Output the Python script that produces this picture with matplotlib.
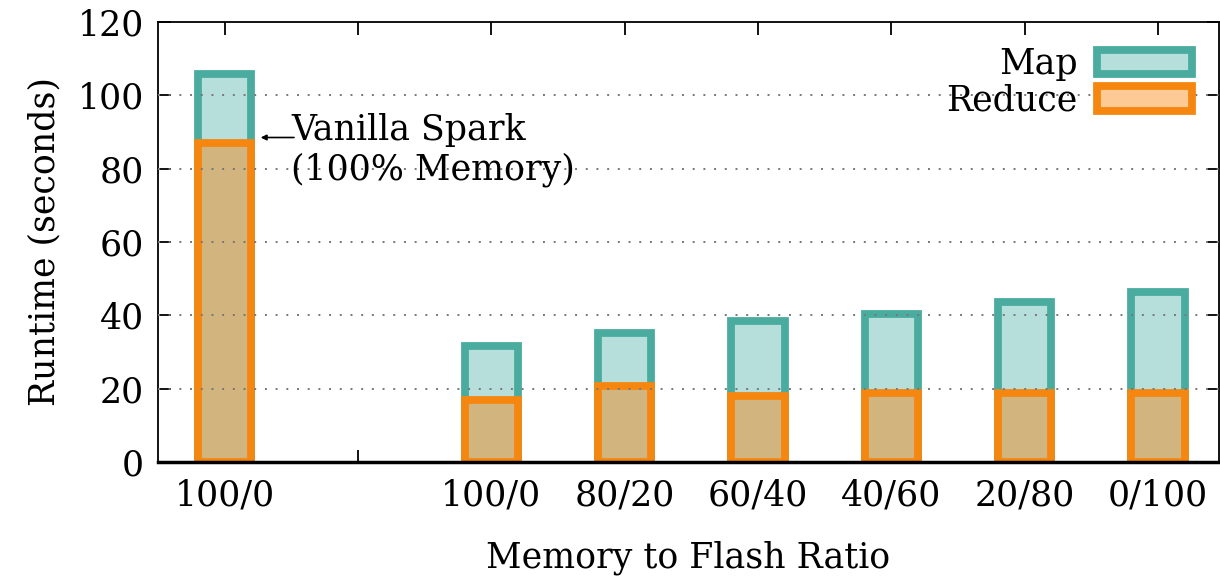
import matplotlib
matplotlib.use("Agg")
import matplotlib.pyplot as plt
from matplotlib.patches import Patch

# data
ratios = ["100/0", "", "100/0", "80/20", "60/40", "40/60", "20/80", "0/100"]
positions = [0, 2, 3, 4, 5, 6, 7]
map_total = [105.7, 31.6, 35.3, 38.4, 40.3, 43.7, 46.4]
reduce_time = [87.0, 16.8, 20.6, 18.0, 18.9, 18.7, 18.7]

TEAL = "#4aab9f"
TEAL_FILL = "#b6dfdb"
ORANGE = "#f5860f"
TAN_FILL = "#d2b47e"
ORANGE_FILL = "#fdca95"

plt.rcParams["font.family"] = ["DejaVu Serif"]
plt.rcParams["font.size"] = 25

fig = plt.figure(figsize=(12.2, 5.76), dpi=100)
ax = fig.add_axes([158 / 1220, 1 - 462 / 576, (1219 - 158) / 1220, 440 / 576])

w = 0.40
lw = 5.6
ax.bar(positions, map_total, width=w, facecolor=TEAL_FILL, edgecolor=TEAL,
       linewidth=lw, zorder=2)
ax.bar(positions, reduce_time, width=w, facecolor=TAN_FILL, edgecolor=ORANGE,
       linewidth=lw, zorder=2)

ax.set_xlim(-0.5, 7.457)
ax.set_ylim(0, 120)
ax.set_yticks(range(0, 121, 20))
ax.set_xticks(range(len(ratios)))
ax.set_xticklabels(ratios)

for y in range(20, 120, 20):
    ax.axhline(y, color="#777777", linestyle=(0, (1, 4.5)), linewidth=1.4,
               zorder=3)

ax.tick_params(direction="in", top=True, right=True, length=9, width=1.3,
               pad=10)
ax.tick_params(axis="x", pad=12)
for s in ax.spines.values():
    s.set_linewidth(1.3)
ax.spines["bottom"].set_linewidth(2.5)

ax.set_xlabel("Memory to Flash Ratio", labelpad=20)
ax.set_ylabel("Runtime (seconds)", labelpad=12)

ax.annotate("", xy=(0.27, 88.5), xytext=(0.52, 88.5),
            arrowprops=dict(arrowstyle="-|>", color="black", lw=1.2,
                            mutation_scale=8, shrinkA=0, shrinkB=0))
ax.text(0.5, 85.0, "Vanilla Spark\n(100% Memory)", va="center", ha="left",
        linespacing=1.2)

handles = [
    Patch(facecolor=TEAL_FILL, edgecolor=TEAL, linewidth=lw, label="Map"),
    Patch(facecolor=ORANGE_FILL, edgecolor=ORANGE, linewidth=lw, label="Reduce"),
]
ax.legend(handles=handles, loc="upper right", markerfirst=False, frameon=False,
          handlelength=2.75, handleheight=0.7, handletextpad=0.55,
          labelspacing=0.08, borderaxespad=0.0, bbox_to_anchor=(0.988, 0.975))

fig.savefig("out.png", dpi=100)
